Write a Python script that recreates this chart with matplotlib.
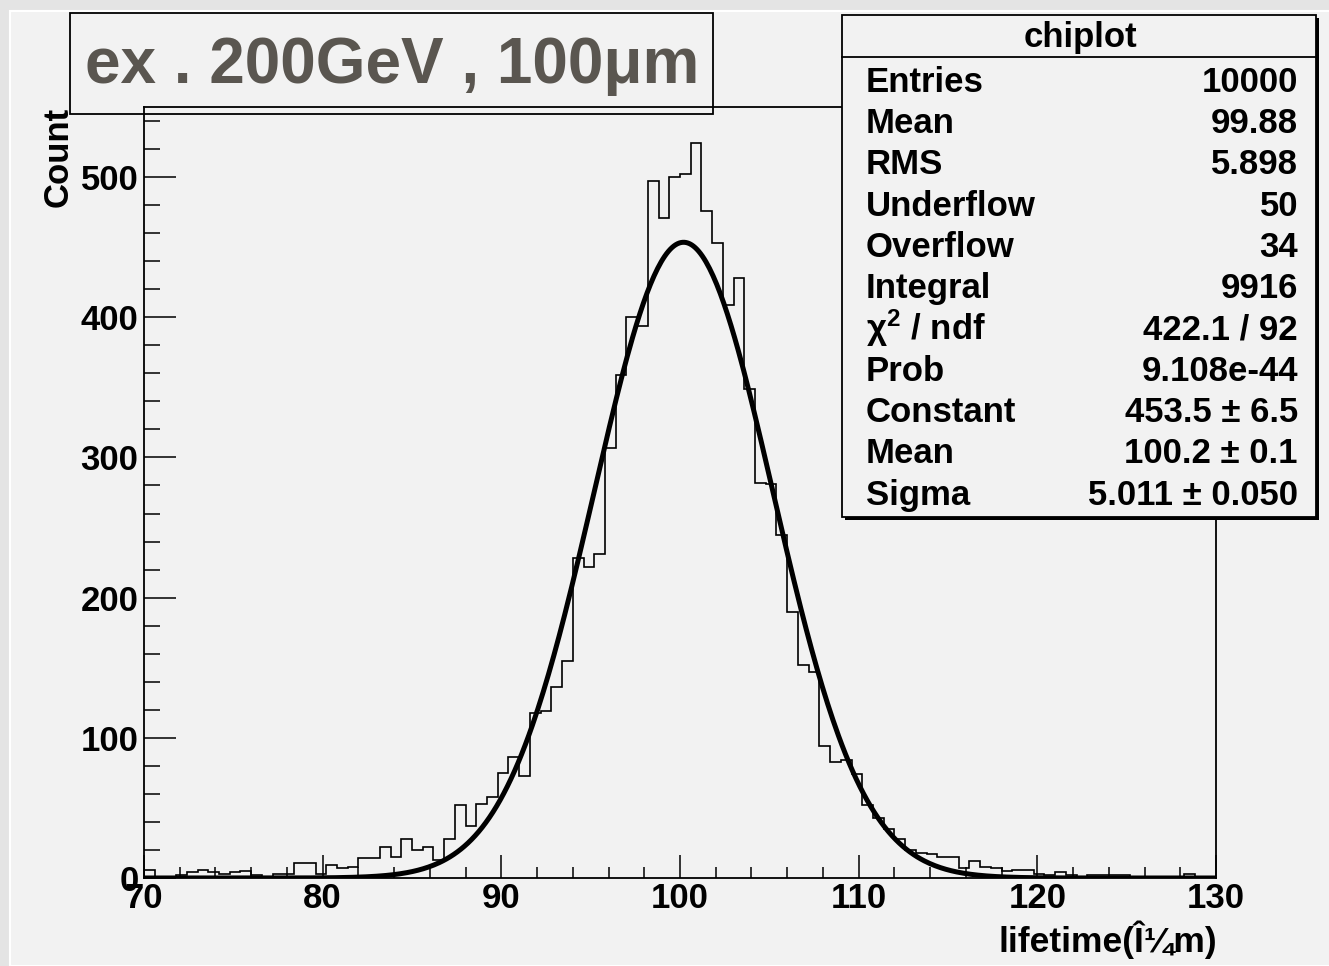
import numpy as np
import matplotlib.pyplot as plt
from matplotlib.patches import Rectangle
from matplotlib.ticker import MultipleLocator

plt.rcParams['font.family'] = ['Liberation Sans', 'DejaVu Sans']
plt.rcParams['font.weight'] = 'bold'
plt.rcParams['mathtext.default'] = 'regular'

# Histogramme : 100 classes de 70 à 130
bord_gauche = 70.0
bord_droit = 130.0
nb_classes = 100
comptages = [
    6, 1, 1, 2, 4, 6, 4, 3, 4, 5,
    2, 1, 3, 3, 11, 11, 3, 9, 7, 8,
    14, 14, 22, 15, 28, 20, 22, 13, 28, 52,
    37, 53, 58, 75, 86, 73, 118, 119, 136, 155,
    228, 222, 231, 307, 359, 400, 394, 497, 471, 500,
    502, 524, 476, 453, 409, 428, 349, 282, 281, 245,
    190, 152, 147, 94, 83, 84, 74, 52, 43, 35,
    28, 20, 18, 17, 15, 15, 7, 12, 8, 7,
    5, 6, 6, 3, 2, 4, 2, 1, 2, 2,
    2, 2, 1, 1, 1, 1, 1, 3, 1, 0,
]

# Paramètres de l'ajustement gaussien
constante = 453.5
moyenne = 100.2
sigma = 5.011

# Boîte de statistiques
titre_stats = "chiplot"
noms_stats = ["Entries", "Mean", "RMS", "Underflow", "Overflow", "Integral",
              r"$\chi^{2}$ / ndf", "Prob", "Constant", "Mean", "Sigma"]
valeurs_stats = ["10000", "99.88", "5.898", "50", "34", "9916",
                 "422.1 / 92", "9.108e-44", "453.5 ± 6.5", "100.2 ± 0.1",
                 "5.011 ± 0.050"]

titre = "ex . 200GeV , 100μm"
label_x = "lifetime(Î¼m)"
label_y = "Count"

L, H = 1329, 966
fig = plt.figure(figsize=(L / 100, H / 100), dpi=100, facecolor='#e4e4e4')


def px(x, y):
    return x / L, 1 - y / H


# fond du canvas
fig.patches.append(Rectangle((10 / L, 0), 1, 1 - 11 / H, transform=fig.transFigure,
                             facecolor='#f2f2f2', edgecolor='white', lw=1.5, zorder=-10))

ax = fig.add_axes([144 / L, 1 - 878 / H, 1072 / L, (878 - 107) / H])
ax.set_facecolor('#f2f2f2')

bords = np.linspace(bord_gauche, bord_droit, nb_classes + 1)
ax.stairs(comptages, bords, color='black', lw=1.2, baseline=0)

xf = np.linspace(bord_gauche, bord_droit, 600)
ax.plot(xf, constante * np.exp(-0.5 * ((xf - moyenne) / sigma) ** 2), color='black', lw=3.6)

ax.set_xlim(70, 130)
ax.set_ylim(0, 550)
ax.xaxis.set_major_locator(MultipleLocator(10))
ax.xaxis.set_minor_locator(MultipleLocator(2))
ax.yaxis.set_major_locator(MultipleLocator(100))
ax.yaxis.set_minor_locator(MultipleLocator(20))
ax.tick_params(axis='x', which='major', direction='in', length=16.5, width=1.1, labelsize=25, pad=3)
ax.tick_params(axis='x', which='minor', direction='in', length=8, width=1.1)
ax.tick_params(axis='y', which='major', direction='in', length=23, width=1.1, labelsize=25, pad=4)
ax.tick_params(axis='y', which='minor', direction='in', length=11.5, width=1.1)
for s in ax.spines.values():
    s.set_linewidth(1.3)

fig.text(*px(58, 107), label_y, rotation=90, ha='center', va='top', fontsize=25)
fig.text(*px(1217, 952), label_x, ha='right', va='baseline', fontsize=25.5)

# boîte du titre (sans remplissage)
fig.patches.append(Rectangle(px(70, 114), 643 / L, 101 / H, transform=fig.transFigure,
                             fill=False, edgecolor='black', lw=1.3, zorder=5))
fig.text(*px(392, 66), titre, ha='center', va='center', fontsize=46, color='#5a5650', zorder=6)

# boîte de statistiques avec ombre
fig.patches.append(Rectangle(px(845, 520), 474 / L, 502 / H, transform=fig.transFigure,
                             facecolor='black', edgecolor='black', lw=0, zorder=5))
fig.patches.append(Rectangle(px(842, 517), 474 / L, 502 / H, transform=fig.transFigure,
                             facecolor='#f2f2f2', edgecolor='black', lw=1.3, zorder=6))
fig.lines.append(plt.Line2D([842 / L, 1316 / L], [1 - 57 / H, 1 - 57 / H],
                            transform=fig.transFigure, color='black', lw=1.3, zorder=7))
fig.text(*px(1080, 47), titre_stats, ha='center', va='baseline', fontsize=25, zorder=8)
for i, (nom, val) in enumerate(zip(noms_stats, valeurs_stats)):
    yb = 91.7 + 41.3 * i
    fig.text(*px(866, yb), nom, ha='left', va='baseline', fontsize=25, zorder=8)
    fig.text(*px(1298, yb), val, ha='right', va='baseline', fontsize=25, zorder=8)

fig.savefig('out.png', dpi=100, facecolor=fig.get_facecolor())
